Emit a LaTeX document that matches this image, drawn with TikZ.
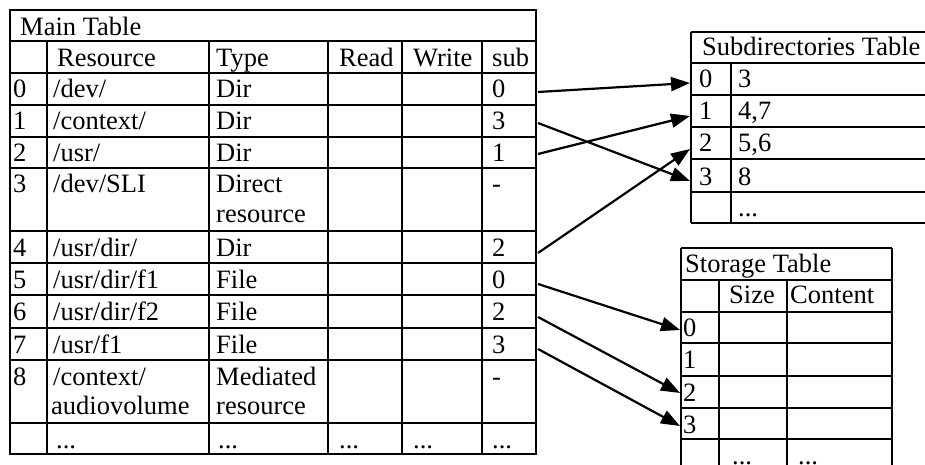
\documentclass[tikz,border=0pt]{standalone}
\usepackage{fontspec}
\setmainfont{Liberation Serif}
\usetikzlibrary{arrows.meta}
\begin{document}
\begin{tikzpicture}[x=1pt,y=-1pt,
  grid/.style={line width=2pt},
  txt/.style={anchor=base west,inner sep=0pt,font=\fontsize{26.5}{30}\selectfont},
  link/.style={line width=2.2pt,-{Triangle[length=19pt,width=14pt]}}]
\useasboundingbox (0,0) rectangle (925,465);
\clip (0,0) rectangle (925,465);

% one row of the main table: name prefix, row top, index, resource, type, sub
\newcommand\mainrow[6]{%
  \node[txt] (#1i) at (13,#2+25) {#3};
  \node[txt] (#1r) at (53,#2+25) {#4};
  \node[txt] (#1t) at (216,#2+25) {#5};
  \node[txt] (#1s) at (492,#2+25) {#6};}

% ---------------- main table ----------------
\draw[grid] (10,10) rectangle (536,454);
\foreach \y in {41,73,105,137,168,231,263,295,328,360,423}
  \draw[grid] (10,\y) -- (536,\y);
\foreach \x in {47,209,328,402,482}
  \draw[grid] (\x,41) -- (\x,454);

\node[txt] (mtitle) at (20,36) {Main Table};
\node[txt] (hres) at (57,67) {Resource};
\node[txt] (htyp) at (216,67) {Type};
\node[txt] (hread) at (339,67) {Read};
\node[txt] (hwrite) at (413,67) {Write};
\node[txt] (hsub) at (492,67) {sub};

\mainrow{ra}{73}{0}{/dev/}{Dir}{0}
\mainrow{rb}{105}{1}{/context/}{Dir}{3}
\mainrow{rc}{137}{2}{/usr/}{Dir}{1}
\mainrow{rd}{168}{3}{/dev/SLI}{Direct}{-}
\node[txt] (rdt2) at (216,168+54) {resource};
\mainrow{re}{231}{4}{/usr/dir/}{Dir}{2}
\mainrow{rf}{263}{5}{/usr/dir/f1}{File}{0}
\mainrow{rg}{295}{6}{/usr/dir/f2}{File}{2}
\mainrow{rh}{328}{7}{/usr/f1}{File}{3}
\mainrow{ri}{360}{8}{/context/}{Mediated}{-}
\node[txt] (rir2) at (51,360+54) {audiovolume};
\node[txt] (rit2) at (216,360+54) {resource};
\node[txt] (dres) at (56,448) {...};
\node[txt] (dtyp) at (218,448) {...};
\node[txt] (dread) at (339,448) {...};
\node[txt] (dwrite) at (413,448) {...};
\node[txt] (dsub) at (492,448) {...};

% ---------------- subdirectories table ----------------
\foreach \y in {32,63,95,127,159,192,223}
  \draw[grid] (691,\y) -- (935,\y);
\draw[grid] (691,32) -- (691,223);
\draw[grid] (731,63) -- (731,223);
\node[txt] (stitle) at (702,56) {Subdirectories Table};
\node[txt] (s0i) at (699,88) {0};  \node[txt] (s0v) at (738,88) {3};
\node[txt] (s1i) at (699,120) {1}; \node[txt] (s1v) at (738,120) {4,7};
\node[txt] (s2i) at (699,152) {2}; \node[txt] (s2v) at (738,152) {5,6};
\node[txt] (s3i) at (699,185) {3}; \node[txt] (s3v) at (738,185) {8};
\node[txt] (sdots) at (738,216) {...};

% ---------------- storage table ----------------
\foreach \y in {248,280,312,343,376,408,439}
  \draw[grid] (681,\y) -- (892,\y);
\draw[grid] (681,248) -- (681,475);
\draw[grid] (892,248) -- (892,475);
\draw[grid] (719,280) -- (719,475);
\draw[grid] (787,280) -- (787,475);
\node[txt] (ttitle) at (685,272) {Storage Table};
\node[txt] (tsize) at (729,303) {Size};
\node[txt] (tcont) at (790,303) {Content};
\node[txt] (t0) at (683,336) {0};
\node[txt] (t1) at (683,368) {1};
\node[txt] (t2) at (683,401) {2};
\node[txt] (t3) at (683,433) {3};
\node[txt] (tdsize) at (732,464) {...};
\node[txt] (tdcont) at (798,464) {...};

% ---------------- links ----------------
\coordinate (fa) at (538,92);   \coordinate (ga) at (690,83);
\coordinate (fb) at (538,123);  \coordinate (gb) at (690,181);
\coordinate (fc) at (538,154);  \coordinate (gc) at (690,116);
\coordinate (fe) at (538,253);  \coordinate (ge) at (690,149);
\coordinate (ff) at (538,284);  \coordinate (gf) at (680,330);
\coordinate (fg) at (538,317);  \coordinate (gg) at (680,393);
\coordinate (fh) at (538,349);  \coordinate (gh) at (680,426);
\foreach \k in {a,b,c,e,f,g,h}
  \draw[link] (f\k) -- (g\k);
\end{tikzpicture}
\end{document}
